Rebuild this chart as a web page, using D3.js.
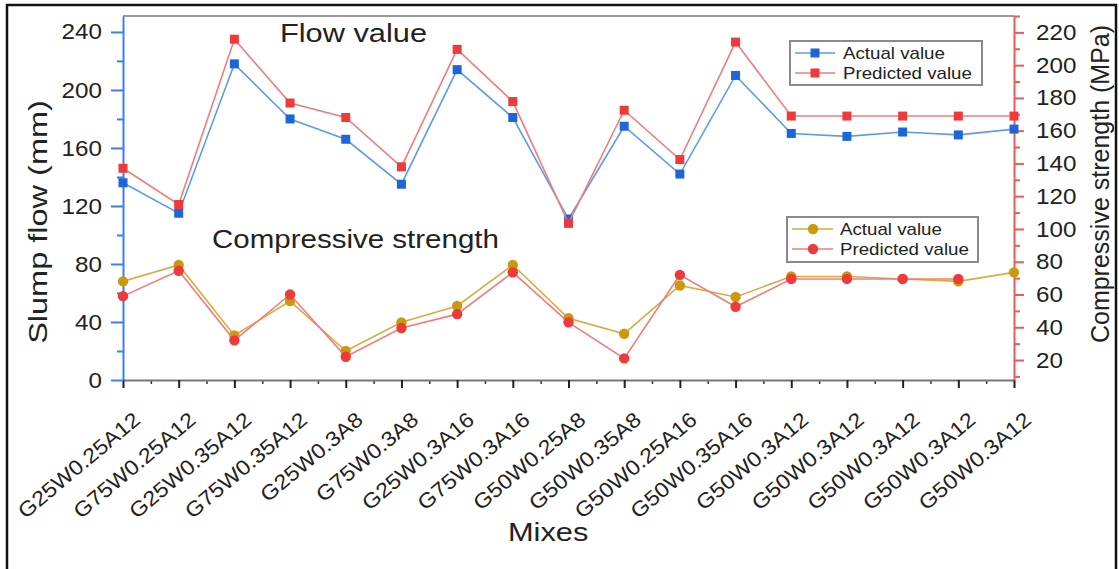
<!DOCTYPE html>
<html>
<head>
<meta charset="utf-8">
<script src="https://cdn.jsdelivr.net/npm/d3@7"></script>
<style>
  body { margin: 0; background: #fff; }
  svg { display: block; font-family: "Liberation Sans", Arial, sans-serif; }
</style>
</head>
<body>
<svg id="chart"></svg>
<script>
// mixes along the x axis (the last five share a name)
const mixes = ["G25W0.25A12", "G75W0.25A12", "G25W0.35A12", "G75W0.35A12", "G25W0.3A8", "G75W0.3A8",
    "G25W0.3A16", "G75W0.3A16", "G50W0.25A8", "G50W0.35A8", "G50W0.25A16", "G50W0.35A16",
    "G50W0.3A12", "G50W0.3A12", "G50W0.3A12", "G50W0.3A12", "G50W0.3A12"]

// slump flow (mm), left axis
const flowActual = [136, 115, 218, 180, 166, 135, 214, 181, 111, 175, 142, 210, 170, 168, 171, 169, 173]
const flowPredicted = [146, 121, 235, 191, 181, 147, 228, 192, 108, 186, 152, 233, 182, 182, 182, 182, 182]

// compressive strength (MPa), right axis
const strengthActual = [68, 78, 35, 56, 25.5, 43, 53, 78, 45.5, 36, 65.5, 58.5, 71, 71, 69.5, 68, 73.5]
const strengthPredicted = [59, 74.5, 32, 60, 22, 39.5, 48, 73.5, 43, 21, 72, 52.5, 69.5, 69.5, 69.5, 69.5, null]

const leftTicks = [0, 40, 80, 120, 160, 200, 240]
const rightTicks = [20, 40, 60, 80, 100, 120, 140, 160, 180, 200, 220]

const width = 1119, height = 569
const plot = { left: 123, right: 1014, top: 16, bottom: 380 }

const blue = "#1c66d9", blueLine = "#5c9ceb"
const red = "#ee3a3a", redLine = "#f27c7c"
const gold = "#c99a0e", goldLine = "#d6ad3e"

const svg = d3.select('#chart').attr('width', width).attr('height', height)

// widen text a little, the original font runs wide
const stretch = (sel, k) => sel.each(function () {
    const w = this.getComputedTextLength()
    d3.select(this).attr('textLength', w * k).attr('lengthAdjust', 'spacingAndGlyphs')
})

const x = d3.scaleLinear().domain([0, mixes.length - 1]).range([plot.left, plot.right])
const yL = d3.scaleLinear().domain([0, 251]).range([plot.bottom, plot.top])
const yR = d3.scaleLinear().domain([7.8, 230]).range([plot.bottom, plot.top])

// top frame line
svg.append('line')
    .attr('x1', plot.left).attr('x2', plot.right)
    .attr('y1', plot.top).attr('y2', plot.top)
    .attr('stroke', '#9a9a9a').attr('stroke-width', 2)

// bottom axis
const xMinor = d3.range(0.5, mixes.length - 1, 1)
svg.append('g')
    .attr('transform', `translate(0,${plot.bottom})`)
    .call(d3.axisBottom(x).tickValues(xMinor).tickSize(4).tickFormat(''))
    .call(g => g.select('.domain').remove())
    .call(g => g.selectAll('line').attr('stroke', '#333').attr('stroke-width', 1.5))

const xAxis = svg.append('g')
    .attr('transform', `translate(0,${plot.bottom})`)
    .call(d3.axisBottom(x).tickValues(d3.range(mixes.length)).tickSize(8).tickSizeOuter(0)
        .tickFormat(i => mixes[i]))
xAxis.select('.domain').attr('stroke', '#777').attr('stroke-width', 2)
xAxis.selectAll('line').attr('stroke', '#222').attr('stroke-width', 2)
xAxis.selectAll('text')
    .attr('font-size', 21)
    .attr('fill', '#222')
    .attr('text-anchor', 'end')
    .attr('x', 0).attr('y', 0).attr('dy', 0)
    .attr('transform', 'translate(18,42) rotate(-40)')
    .call(stretch, 1.1)

// left axis
svg.append('g')
    .attr('transform', `translate(${plot.left},0)`)
    .call(d3.axisLeft(yL).tickValues(d3.range(20, 251, 40)).tickSize(6).tickFormat(''))
    .call(g => g.select('.domain').remove())
    .call(g => g.selectAll('line').attr('stroke', '#3a80e8').attr('stroke-width', 2))

const leftAxis = svg.append('g')
    .attr('transform', `translate(${plot.left},0)`)
    .call(d3.axisLeft(yL).tickValues(leftTicks).tickSize(12).tickSizeOuter(0).tickPadding(9))
leftAxis.select('.domain').attr('stroke', '#3a80e8').attr('stroke-width', 2)
leftAxis.selectAll('line').attr('stroke', '#3a80e8').attr('stroke-width', 2)
leftAxis.selectAll('text').attr('font-size', 22).attr('fill', '#222').call(stretch, 1.1)

// right axis
svg.append('g')
    .attr('transform', `translate(${plot.right},0)`)
    .call(d3.axisRight(yR).tickValues(d3.range(10, 231, 20)).tickSize(6).tickFormat(''))
    .call(g => g.select('.domain').remove())
    .call(g => g.selectAll('line').attr('stroke', '#f25858').attr('stroke-width', 2))

const rightAxis = svg.append('g')
    .attr('transform', `translate(${plot.right},0)`)
    .call(d3.axisRight(yR).tickValues(rightTicks).tickSize(10).tickSizeOuter(0).tickPadding(12))
rightAxis.select('.domain').attr('stroke', '#f25858').attr('stroke-width', 2)
rightAxis.selectAll('line').attr('stroke', '#f25858').attr('stroke-width', 2)
rightAxis.selectAll('text').attr('font-size', 22).attr('fill', '#222').call(stretch, 1.1)

// series
const series = [
    { values: flowActual, y: yL, color: blue, line: blueLine, shape: 'square' },
    { values: flowPredicted, y: yL, color: red, line: redLine, shape: 'square' },
    { values: strengthActual, y: yR, color: gold, line: goldLine, shape: 'circle' },
    { values: strengthPredicted, y: yR, color: red, line: redLine, shape: 'circle' },
]

series.forEach(s => {
    const line = d3.line()
        .defined(d => d != null)
        .x((d, i) => x(i))
        .y(d => s.y(d))

    svg.append('path')
        .datum(s.values)
        .attr('fill', 'none')
        .attr('stroke', s.line)
        .attr('stroke-width', 1.6)
        .attr('d', line)

    const pts = s.values.map((v, i) => ({ v, i })).filter(d => d.v != null)
    if (s.shape === 'square') {
        svg.append('g').selectAll('rect')
            .data(pts).join('rect')
            .attr('x', d => x(d.i) - 4.5)
            .attr('y', d => s.y(d.v) - 4.5)
            .attr('width', 9).attr('height', 9)
            .attr('fill', s.color)
    } else {
        svg.append('g').selectAll('circle')
            .data(pts).join('circle')
            .attr('cx', d => x(d.i))
            .attr('cy', d => s.y(d.v))
            .attr('r', 5.2)
            .attr('fill', s.color)
    }
})

// legends
const legend = (bx, by, bw, bh, items, lx1, lx2, mx, tx, rows) => {
    const g = svg.append('g')
    g.append('rect')
        .attr('x', bx).attr('y', by).attr('width', bw).attr('height', bh)
        .attr('fill', '#fff').attr('stroke', '#8a8a8a').attr('stroke-width', 2)
    items.forEach((it, k) => {
        const yy = rows[k]
        g.append('line')
            .attr('x1', lx1).attr('x2', lx2).attr('y1', yy).attr('y2', yy)
            .attr('stroke', it.line).attr('stroke-width', 1.6)
        if (it.shape === 'square') {
            g.append('rect').attr('x', mx - 4.5).attr('y', yy - 4.5)
                .attr('width', 9).attr('height', 9).attr('fill', it.color)
        } else {
            g.append('circle').attr('cx', mx).attr('cy', yy).attr('r', 5.2).attr('fill', it.color)
        }
        g.append('text')
            .attr('x', tx).attr('y', yy).attr('dy', '0.36em')
            .attr('font-size', 17).attr('fill', '#222')
            .text(it.label)
            .call(stretch, 1.1)
    })
}

legend(790, 41, 192, 44, [
    { label: 'Actual value', color: blue, line: blueLine, shape: 'square' },
    { label: 'Predicted value', color: red, line: redLine, shape: 'square' },
], 795, 835, 815, 843, [53, 73])

legend(787, 217, 191, 45, [
    { label: 'Actual value', color: gold, line: goldLine, shape: 'circle' },
    { label: 'Predicted value', color: red, line: redLine, shape: 'circle' },
], 792, 833, 813, 840, [229, 249])

// titles inside the plot
svg.append('text').attr('x', 280).attr('y', 42)
    .attr('font-size', 25).attr('fill', '#222').text('Flow value').call(stretch, 1.23)
svg.append('text').attr('x', 212).attr('y', 248)
    .attr('font-size', 25).attr('fill', '#222').text('Compressive strength').call(stretch, 1.18)

// axis titles
svg.append('text').attr('x', 508).attr('y', 541)
    .attr('font-size', 25).attr('fill', '#222').text('Mixes').call(stretch, 1.23)
svg.append('text')
    .attr('transform', 'translate(47,222) rotate(-90)')
    .attr('text-anchor', 'middle')
    .attr('font-size', 26).attr('fill', '#222').text('Slump flow (mm)').call(stretch, 1.25)
svg.append('text')
    .attr('transform', 'translate(1109,184) rotate(-90)')
    .attr('text-anchor', 'middle')
    .attr('font-size', 25).attr('fill', '#222').text('Compressive strength (MPa)')

// outer frame of the figure
svg.append('path')
    .attr('d', `M7,${height} V5 H1116 V${height}`)
    .attr('fill', 'none').attr('stroke', '#111').attr('stroke-width', 2.5)
</script>
</body>
</html>
